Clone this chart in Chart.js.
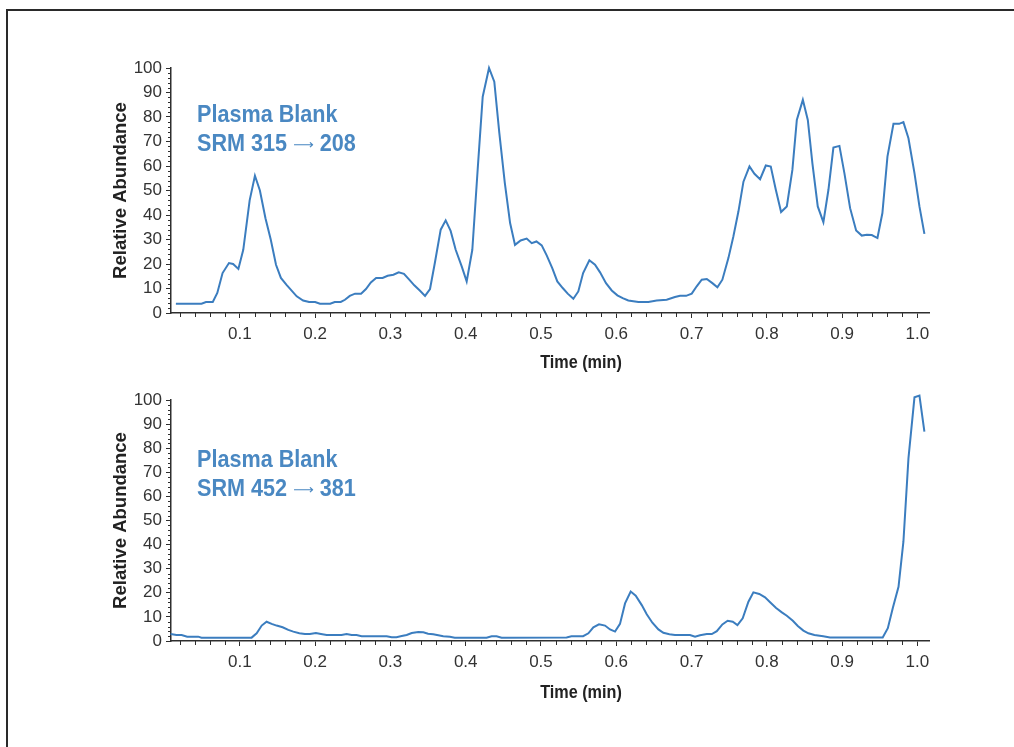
<!DOCTYPE html>
<html>
<head>
<meta charset="utf-8">
<script src="https://cdn.jsdelivr.net/npm/chart.js@4.4.1/dist/chart.umd.min.js"></script>
<style>
  html, body { margin: 0; padding: 0; background: #fff; }
  body { width: 1014px; height: 747px; position: relative; overflow: hidden; }
  #frame { position: absolute; left: 6px; top: 9px; right: -10px; bottom: -10px;
           border-top: 2px solid #2a2a2a; border-left: 2px solid #2a2a2a; }
  canvas { position: absolute; left: 0; }
  #c1 { top: 0; }
  #c2 { top: 360px; }
  .ann { position: absolute; left: 197px; font-family: 'Liberation Sans', Arial, sans-serif;
         font-weight: bold; font-size: 24px; line-height: 24px; color: #4a88c2; white-space: nowrap;
         transform: scaleX(0.9); transform-origin: 0 0; }
  .arr { font-family: 'DejaVu Sans', sans-serif; font-weight: normal; font-size: 16px;
         display: inline-block; transform: scaleY(0.8) translateY(-1px); }
  .xt { position: absolute; left: 481px; width: 200px; text-align: center;
        font-family: 'Liberation Sans', Arial, sans-serif;
        font-weight: bold; font-size: 18px; line-height: 18px; color: #222;
        transform: scaleX(0.9); transform-origin: 50% 0; }
</style>
</head>
<body>
<div id="frame"></div>
<canvas id="c1" width="1014" height="380"></canvas>
<canvas id="c2" width="1014" height="370"></canvas>
<div class="ann" style="top:102px">Plasma Blank</div>
<div class="ann" style="top:131px">SRM 315 <span class="arr">⟶</span> 208</div>
<div class="ann" style="top:447px">Plasma Blank</div>
<div class="ann" style="top:476px">SRM 452 <span class="arr">⟶</span> 381</div>
<div class="xt" style="top:353px">Time (min)</div>
<div class="xt" style="top:683px">Time (min)</div>
<script>
// ---- Data: SRM 315 -> 208 (top trace) ----
const timeA = [
  0.015, 0.049, 0.055, 0.064, 0.070, 0.077, 0.0855, 0.091, 0.098, 0.1045,
  0.113, 0.120, 0.1266, 0.134, 0.141, 0.148, 0.1545, 0.162, 0.1755, 0.184,
  0.192, 0.200, 0.2064, 0.220, 0.226, 0.234, 0.2396, 0.246, 0.253, 0.261,
  0.2675, 0.274, 0.281, 0.2896, 0.2963, 0.304, 0.311, 0.318, 0.325, 0.3317,
  0.339, 0.346, 0.3526, 0.359, 0.3668, 0.3734, 0.380, 0.3867, 0.3947, 0.4013,
  0.4088, 0.416, 0.4226, 0.431, 0.438, 0.4447, 0.452, 0.459, 0.4655, 0.473,
  0.481, 0.4877, 0.494, 0.501, 0.5076, 0.515, 0.5217, 0.5289, 0.5355, 0.543,
  0.5496, 0.556, 0.5643, 0.5718, 0.5785, 0.5864, 0.594, 0.6015, 0.6086, 0.616,
  0.6294, 0.6427, 0.6537, 0.667, 0.678, 0.6848, 0.6928, 0.7003, 0.7069, 0.7136,
  0.7203, 0.7277, 0.7344, 0.741, 0.749, 0.7556, 0.7623, 0.769, 0.777, 0.7836,
  0.7911, 0.7987, 0.8053, 0.812, 0.819, 0.8266, 0.834, 0.8399, 0.8479, 0.8545,
  0.8606, 0.8677, 0.8752, 0.8819, 0.8885, 0.8965, 0.9031, 0.9107, 0.9187, 0.9262,
  0.9329, 0.9395, 0.947, 0.9536, 0.9603, 0.9683, 0.9758, 0.9815, 0.9882, 0.9962,
  1.0028, 1.0094
];
const abundanceA = [
  3.8, 3.8, 4.5, 4.5, 8.2, 16.3, 20.4, 20.0, 18.0, 25.8,
  46, 56, 50, 38.7, 30, 19.7, 14.3, 11.5, 6.8, 5.1,
  4.5, 4.5, 3.8, 3.8, 4.5, 4.5, 5.4, 7.0, 7.9, 7.9,
  9.8, 12.5, 14.3, 14.3, 15.2, 15.6, 16.6, 16.0, 13.6, 11.3,
  9.2, 7.0, 9.8, 20.4, 34, 37.8, 33.5, 25.8, 19, 12.9,
  25.8, 59, 88.3, 100, 94.4, 73.4, 53, 36.7, 27.8, 29.6,
  30.4, 28.5, 29.2, 27.6, 23.5, 18.3, 12.9, 10.2, 7.9, 5.8,
  8.8, 16.3, 21.5, 19.7, 16.6, 12.2, 9.2, 7.2, 6.1, 5.1,
  4.5, 4.5, 5.1, 5.4, 6.5, 7.0, 7.0, 7.9, 10.9, 13.6,
  13.9, 12.2, 10.5, 13.6, 22.4, 31.2, 41.4, 53.6, 59.8, 56.8,
  54.6, 60.2, 59.8, 50.3, 41.2, 43.5, 58.4, 78.8, 87, 78.8,
  61.1, 43.5, 37.1, 50.3, 67.5, 68.2, 57.1, 42.8, 33.7, 31.6,
  31.9, 31.8, 30.6, 40.8, 63.8, 77.2, 77.2, 77.9, 71.3, 57.1,
  43.5, 32.3
];

// ---- Data: SRM 452 -> 381 (bottom trace) ----
const timeB = [
  0.008, 0.0158, 0.0226, 0.030, 0.0447, 0.049, 0.1156, 0.1223, 0.129, 0.1355,
  0.1422, 0.1488, 0.1568, 0.1643, 0.171, 0.179, 0.1864, 0.193, 0.201, 0.2077,
  0.2153, 0.235, 0.2418, 0.2485, 0.255, 0.2618, 0.295, 0.3017, 0.308, 0.315,
  0.3216, 0.3283, 0.337, 0.3437, 0.350, 0.3569, 0.3636, 0.3702, 0.379, 0.3855,
  0.4277, 0.4345, 0.441, 0.4477, 0.534, 0.5405, 0.556, 0.563, 0.5696, 0.5771,
  0.5851, 0.5918, 0.5984, 0.605, 0.6117, 0.6192, 0.6259, 0.6339, 0.6405, 0.648,
  0.656, 0.6626, 0.6706, 0.678, 0.698, 0.7047, 0.7113, 0.7203, 0.727, 0.7336,
  0.741, 0.748, 0.7548, 0.761, 0.768, 0.7756, 0.7822, 0.790, 0.7977, 0.8044,
  0.8124, 0.820, 0.8266, 0.8346, 0.8412, 0.8486, 0.8553, 0.8633, 0.875, 0.884,
  0.954, 0.9608, 0.9675, 0.975, 0.9815, 0.9882, 0.9962, 1.0028, 1.0094
];
const abundanceB = [
  2.9, 2.5, 2.5, 1.8, 1.8, 1.4, 1.4, 3.2, 6.4, 8.0,
  7.1, 6.4, 5.7, 4.6, 3.9, 3.2, 2.9, 2.9, 3.3, 2.9,
  2.5, 2.5, 2.9, 2.5, 2.5, 2.0, 2.0, 1.6, 1.6, 2.1,
  2.5, 3.3, 3.7, 3.6, 3.0, 2.8, 2.4, 2.0, 1.8, 1.4,
  1.4, 2.0, 2.0, 1.4, 1.5, 2.0, 2.0, 3.2, 5.7, 6.9,
  6.4, 4.8, 3.9, 7.1, 15.6, 20.5, 18.8, 14.9, 11.1, 7.6,
  4.8, 3.4, 2.8, 2.5, 2.5, 1.8, 2.4, 2.9, 2.9, 4.1,
  6.9, 8.4, 8.0, 6.6, 9.4, 16.3, 20.2, 19.5, 18.1, 16.1,
  13.7, 11.9, 10.5, 8.4, 6.2, 4.3, 3.2, 2.5, 2.0, 1.5,
  1.5, 5.3, 13.8, 22.5, 41.2, 75.8, 101.1, 101.8, 86.9
];

// ---- Tick labels ----
const xMajorTicks = [0.1, 0.2, 0.3, 0.4, 0.5, 0.6, 0.7, 0.8, 0.9, 1.0];
const xMinorTicks = [0.02, 0.04, 0.06, 0.08, 0.12, 0.14, 0.16, 0.18, 0.22, 0.24, 0.26, 0.28,
  0.32, 0.34, 0.36, 0.38, 0.42, 0.44, 0.46, 0.48, 0.52, 0.54, 0.56, 0.58, 0.62, 0.64, 0.66, 0.68,
  0.72, 0.74, 0.76, 0.78, 0.82, 0.84, 0.86, 0.88, 0.92, 0.94, 0.96, 0.98];
const yMajorTicks = [0, 10, 20, 30, 40, 50, 60, 70, 80, 90, 100];
const yMinorTicks = [];
for (let v = 2; v < 100; v += 2) { if (v % 10 !== 0) yMinorTicks.push(v); }

const xRange = [0.0085, 1.0155];
const yRange = [0, 100];

const LINE_COLOR = '#3b7dbf';
const AXIS_COLOR = '#2e2e2e';
const TICK_FONT = { family: "'Liberation Sans', Arial, sans-serif", size: 17 };
const TITLE_FONT = { family: "'Liberation Sans', Arial, sans-serif", size: 18.5, weight: 'bold' };

const minorTicksPlugin = {
  id: 'minorTicks',
  afterDraw(chart) {
    const ctx = chart.ctx;
    const xs = chart.scales.x, ys = chart.scales.y;
    ctx.save();
    ctx.strokeStyle = AXIS_COLOR;
    ctx.lineWidth = 1;
    ctx.beginPath();
    xMinorTicks.forEach(v => {
      const px = Math.round(xs.getPixelForValue(v)) + 0.5;
      ctx.moveTo(px, xs.top);
      ctx.lineTo(px, xs.top + 4);
    });
    yMinorTicks.forEach(v => {
      const py = Math.round(ys.getPixelForValue(v)) + 0.5;
      ctx.moveTo(ys.right - 3, py);
      ctx.lineTo(ys.right, py);
    });
    ctx.stroke();
    ctx.restore();
  }
};

function makeChart(id, times, values, padTop, padBottom) {
  const pts = times.map((t, i) => ({ x: t, y: values[i] }));
  return new Chart(document.getElementById(id), {
    type: 'line',
    data: { datasets: [{ data: pts, borderColor: LINE_COLOR, borderWidth: 2, pointRadius: 0,
                         tension: 0, fill: false, clip: false }] },
    options: {
      responsive: false, animation: false, devicePixelRatio: 1,
      layout: { padding: { left: 100, right: 85, top: padTop, bottom: padBottom } },
      plugins: { legend: { display: false }, tooltip: { enabled: false } },
      scales: {
        x: {
          type: 'linear', min: xRange[0], max: xRange[1],
          afterBuildTicks: s => { s.ticks = xMajorTicks.map(v => ({ value: v })); },
          afterFit: s => { s.height = 30; },
          grid: { drawOnChartArea: false, drawTicks: true, tickLength: 5, color: AXIS_COLOR, lineWidth: 1 },
          border: { display: true, color: AXIS_COLOR, width: 1.5 },
          ticks: { font: TICK_FONT, color: '#333', padding: 6, maxRotation: 0, autoSkip: false,
                   callback: v => Number(v).toFixed(1) }
        },
        y: {
          type: 'linear', min: yRange[0], max: yRange[1],
          afterBuildTicks: s => { s.ticks = yMajorTicks.map(v => ({ value: v })); },
          afterFit: s => { s.width = 71; },
          grid: { drawOnChartArea: false, drawTicks: true, tickLength: 5, color: AXIS_COLOR, lineWidth: 1 },
          border: { display: true, color: AXIS_COLOR, width: 1.5 },
          ticks: { font: TICK_FONT, color: '#333', padding: 4, autoSkip: false },
          title: { display: true, text: 'Relative Abundance', font: TITLE_FONT, color: '#222',
                   padding: { top: 10, bottom: 0 } }
        }
      }
    },
    plugins: [minorTicksPlugin]
  });
}

makeChart('c1', timeA, abundanceA, 68, 37);
makeChart('c2', timeB, abundanceB, 40, 59);
</script>
</body>
</html>
